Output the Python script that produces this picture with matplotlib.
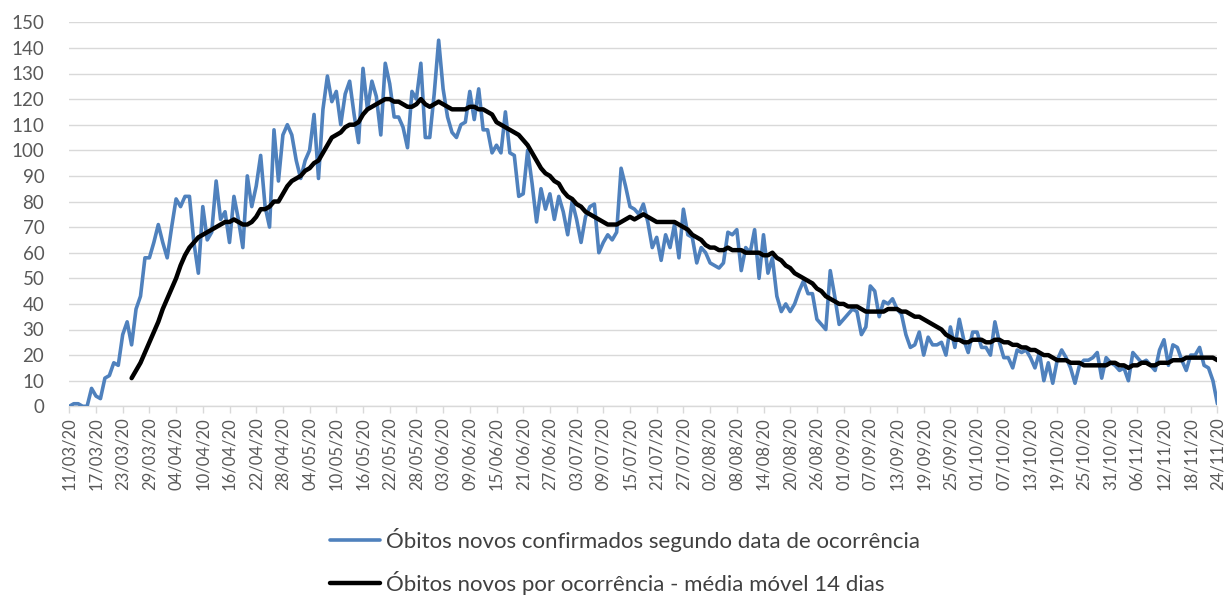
import matplotlib
matplotlib.use("Agg")
import matplotlib.pyplot as plt
import pandas as pd
import numpy as np

# ---- data ----
start_date = "2020-03-11"
end_date = "2020-11-24"
dates = pd.date_range(start_date, end_date, freq="D")

obitos_novos = [
    0, 1, 1, 0, 0, 7, 4, 3, 11, 12, 17, 16, 28, 33, 24, 38, 43, 58, 58, 64,
    71, 64, 58, 70, 81, 78, 82, 82, 64, 52, 78, 65, 68, 88, 73, 76, 64, 82, 73, 62,
    90, 78, 86, 98, 78, 70, 108, 88, 106, 110, 106, 96, 89, 96, 100, 114, 89, 116, 129, 119,
    123, 110, 122, 127, 114, 103, 132, 116, 127, 121, 106, 134, 126, 113, 113, 109, 101, 123, 120, 134,
    105, 105, 122, 143, 124, 113, 107, 105, 110, 111, 123, 112, 124, 108, 108, 99, 102, 99, 115, 99,
    98, 82, 83, 100, 87, 72, 85, 77, 83, 73, 82, 76, 67, 80, 73, 64, 74, 78, 79, 60,
    64, 67, 65, 68, 93, 86, 78, 77, 75, 79, 72, 62, 66, 57, 67, 62, 71, 58, 77, 67,
    66, 56, 62, 60, 56, 55, 54, 56, 68, 67, 69, 53, 62, 60, 69, 50, 67, 52, 58, 43,
    37, 40, 37, 40, 45, 49, 44, 44, 34, 32, 30, 53, 43, 32, 34, 36, 38, 37, 28, 31,
    47, 45, 35, 41, 40, 42, 38, 36, 28, 23, 24, 29, 20, 27, 24, 24, 25, 20, 31, 23,
    34, 26, 21, 29, 29, 23, 23, 20, 33, 25, 19, 19, 15, 22, 21, 22, 19, 15, 21, 10,
    17, 9, 18, 22, 19, 15, 9, 16, 18, 18, 19, 21, 11, 19, 17, 16, 14, 15, 10, 21,
    19, 17, 18, 16, 14, 22, 26, 16, 24, 23, 18, 14, 20, 20, 23, 16, 15, 10, 1,
]

media_movel_inicio = 14  # first day with a 14-day average drawn
media_movel_14 = [
    11, 14, 17, 21, 25, 29, 33, 38, 42, 46, 50, 55, 59, 62, 64, 66,
    67, 68, 69, 70, 71, 72, 72, 73, 72, 71, 71, 72, 74, 77, 77, 78, 80, 80, 83, 86,
    88, 89, 90, 92, 93, 95, 96, 99, 102, 105, 106, 107, 109, 110, 110, 111, 114, 116, 117, 118,
    119, 120, 120, 119, 119, 118, 117, 117, 118, 120, 118, 117, 118, 119, 118, 117, 116, 116, 116, 116,
    117, 117, 116, 116, 115, 114, 111, 110, 109, 108, 107, 106, 104, 102, 99, 96, 93, 91, 90, 88,
    87, 84, 82, 81, 79, 78, 76, 75, 74, 73, 72, 71, 71, 71, 72, 73, 74, 73, 74, 75,
    74, 73, 72, 72, 72, 72, 72, 71, 70, 69, 67, 66, 65, 63, 62, 62, 61, 61, 62, 61,
    61, 61, 60, 60, 60, 60, 59, 59, 60, 58, 57, 55, 54, 52, 51, 50, 49, 48, 46, 45,
    43, 42, 41, 40, 40, 39, 39, 39, 38, 37, 37, 37, 37, 37, 38, 38, 38, 37, 37, 36,
    35, 35, 34, 33, 32, 31, 30, 28, 27, 26, 26, 25, 25, 26, 26, 26, 25, 25, 26, 26,
    25, 25, 24, 24, 23, 23, 22, 22, 21, 20, 20, 19, 18, 18, 18, 17, 17, 17, 16, 16,
    16, 16, 16, 16, 17, 17, 16, 16, 15, 16, 16, 17, 17, 16, 16, 17, 17, 17, 18, 18,
    18, 19, 19, 19, 19, 19, 19, 19, 18,
]

label_serie1 = "Óbitos novos confirmados segundo data de ocorrência"
label_serie2 = "Óbitos novos por ocorrência - média móvel 14 dias"
y_ticks = list(range(0, 151, 10))
tick_step = 6

# ---- figure ----
plt.rcParams["font.family"] = ["Lato", "DejaVu Sans"]
W, H = 1224, 596
fig = plt.figure(figsize=(W / 100, H / 100), dpi=100)
ax = fig.add_axes([69.3 / W, 1 - 406.3 / H, (1217.4 - 69.3) / W, (406.3 - 22.3) / H])

x1 = np.arange(len(obitos_novos))
x2 = np.arange(media_movel_inicio, media_movel_inicio + len(media_movel_14))

blue = "#4F81BD"
ax.plot(x1, obitos_novos, color=blue, lw=2.6, solid_joinstyle="round",
        solid_capstyle="round", label=label_serie1, zorder=3)
ax.plot(x2, media_movel_14, color="black", lw=3.2, solid_joinstyle="round",
        solid_capstyle="round", label=label_serie2, zorder=4)

ax.set_xlim(0, len(obitos_novos) - 1)
ax.set_ylim(0, 150)
ax.set_yticks(y_ticks)
ax.yaxis.grid(True, color="#D9D9D9", lw=1.0)
ax.set_axisbelow(True)

xt = list(range(0, len(dates), tick_step))
ax.set_xticks(xt)
ax.set_xticklabels([dates[i].strftime("%d/%m/%y") for i in xt], rotation=90)

for s in ["top", "right", "left"]:
    ax.spines[s].set_visible(False)
ax.spines["bottom"].set_color("#D9D9D9")
ax.spines["bottom"].set_linewidth(1.0)

ax.tick_params(axis="y", length=0, pad=18, labelsize=13.5, labelcolor="#595959")
ax.tick_params(axis="x", length=5, width=1, color="#D9D9D9", pad=3,
               labelsize=12, labelcolor="#595959")

handles, labels = ax.get_legend_handles_labels()
leg = fig.legend(handles, labels, loc="upper left",
                 bbox_to_anchor=(330 / W, 1 - 528 / H), frameon=False,
                 fontsize=16, handlelength=2.25, handletextpad=0.27,
                 labelspacing=0.85, borderaxespad=0, borderpad=0)
for t in leg.get_texts():
    t.set_color("#404040")

fig.savefig("out.png", dpi=100)
